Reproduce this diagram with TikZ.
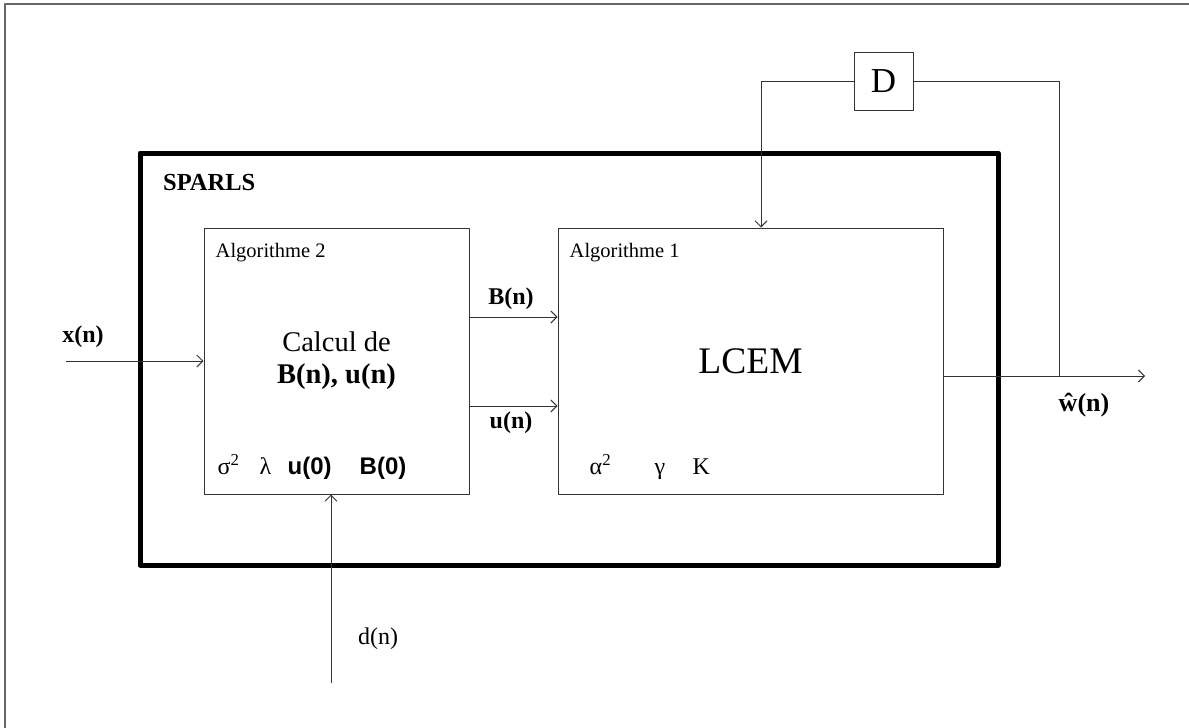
\documentclass[tikz,border=0pt]{standalone}
\usepackage{fontspec}
\setmainfont{Liberation Serif}
\setsansfont{Liberation Sans}
\usetikzlibrary{arrows.meta,calc}
\newcommand{\fs}[1]{\fontsize{#1}{#1}\selectfont}
\begin{document}
\begin{tikzpicture}[x=1pt, y=-1pt, line join=round, >={Straight Barb[length=6pt,width=12pt]},
  box/.style={draw=black!80, line width=1pt, inner sep=0pt},
  wire/.style={draw=black!80, line width=1pt},
  lbl/.style={inner sep=0pt, anchor=base west}]
\useasboundingbox (0,0) rectangle (1189,728);
\draw[black!60, line width=2pt] (5,728) -- (5,4) -- (1189,4);
\node[draw, line width=5pt, minimum width=858pt, minimum height=412pt, inner sep=0pt] (sparls) at (569,359) {};
\node[lbl, font=\bfseries\fs{24.5}] (title) at (163,190) {SPARLS};
\node[box, minimum width=265pt, minimum height=266pt] (alg2) at (336.5,361) {};
\node[box, minimum width=385pt, minimum height=266pt] (alg1) at (750.5,361) {};
\node[box, minimum width=59pt, minimum height=58pt, font=\fs{35}] (delay) at (883.5,81) {D};
\node[lbl, font=\fs{20.5}] (name2) at ($(alg2.north west)+(12,30)$) {Algorithme 2};
\node[lbl, font=\fs{20.5}] (name1) at ($(alg1.north west)+(12,30)$) {Algorithme 1};
\node[align=center, font=\fontsize{28.5}{32}\selectfont] (calc) at (alg2.center) {Calcul de\\\textbf{B(n), u(n)}};
\node[font=\fs{37.5}] (lcem) at (alg1.center) {LCEM};
\node[lbl, font=\fs{24}] (sigma) at ($(alg2.south west)+(14,-20)$) {σ\textsuperscript{2}};
\node[lbl, font=\fs{24}] (lambda) at ($(alg2.south west)+(56,-20)$) {λ};
\node[lbl, font=\sffamily\bfseries\fs{24}] (uzero) at ($(alg2.south west)+(84,-20)$) {u(0)};
\node[lbl, font=\sffamily\bfseries\fs{24}] (bzero) at ($(alg2.south west)+(156,-20)$) {B(0)};
\node[lbl, font=\fs{24}] (alpha) at ($(alg1.south west)+(32,-20)$) {α\textsuperscript{2}};
\node[lbl, font=\fs{24}] (gamma) at ($(alg1.south west)+(97,-20)$) {γ};
\node[lbl, font=\fs{24}] (kay) at ($(alg1.south west)+(135,-20)$) {K};
\coordinate (xin) at (66,361);
\draw[wire,->] (xin) -- (alg2.west);
\node[font=\bfseries\fs{24}] (xlab) at (83,337) {x(n)};
\draw[wire,->] ([yshift=44pt]alg2.east) -- ([yshift=44pt]alg1.west);
\draw[wire,->] ([yshift=-45pt]alg2.east) -- ([yshift=-45pt]alg1.west);
\node[font=\bfseries\fs{24}] (blab) at (511,299) {B(n)};
\node[font=\bfseries\fs{24}] (ulab) at (511,423) {u(n)};
\coordinate (wout) at (1145,376);
\coordinate (tap) at (1059,376);
\draw[wire,->] (alg1.east |- wout) -- (wout);
\draw[wire] (tap) |- (delay.east);
\draw[wire,->] (delay.west) -| ([xshift=10.5pt]alg1.north);
\node[font=\bfseries\fs{26}] (what) at (1084,405) {ŵ(n)};
\coordinate (din) at (331,683);
\draw[wire,->] (din) -- (din |- alg2.south);
\node[font=\fs{24}] (dlab) at (378,639) {d(n)};
\end{tikzpicture}
\end{document}
